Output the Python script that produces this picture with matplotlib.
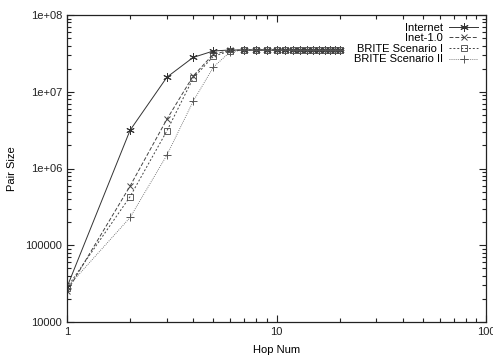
import matplotlib.pyplot as plt
from matplotlib.ticker import LogLocator, NullFormatter, FixedLocator, FixedFormatter

plt.rcParams['font.family'] = ['Liberation Sans', 'DejaVu Sans']

hops = list(range(1, 21))
internet = [2.85e4, 3.15e6, 1.55e7, 2.8e7, 3.4e7] + [3.5e7] * 15
inet = [2.5e4, 5.9e5, 4.4e6, 1.6e7, 3.1e7, 3.45e7] + [3.5e7] * 14
brite1 = [2.8e4, 4.3e5, 3.1e6, 1.5e7, 2.9e7, 3.4e7] + [3.5e7] * 14
brite2 = [2.8e4, 2.3e5, 1.5e6, 7.5e6, 2.1e7, 3.3e7] + [3.5e7] * 14

yticks = [1e4, 1e5, 1e6, 1e7, 1e8]
ylabels = ['10000', '100000', '1e+06', '1e+07', '1e+08']
xticks = [1, 10, 100]
xlabels = ['1', '10', '100']

fig = plt.figure(figsize=(4.93, 3.56), dpi=100)
ax = fig.add_axes([67 / 493, 1 - 322 / 356, 419 / 493, 307 / 356])

ax.plot(hops, internet, color='#333333', lw=0.7, ls='-', marker=(6, 2, 0),
        ms=6, mew=0.7, label='Internet')
ax.plot(hops, inet, color='#444444', lw=0.7, ls=(0, (4, 2)), marker='x',
        ms=5, mew=0.7, label='Inet-1.0')
ax.plot(hops, brite1, color='#444444', lw=0.7, ls=(0, (2, 2)), marker='s',
        ms=5, mew=0.6, mfc='none', label='BRITE Scenario I')
ax.plot(hops, brite2, color='#555555', lw=0.6, ls=(0, (1, 1.5)), marker='+',
        ms=6, mew=0.7, label='BRITE Scenario II')

ax.set_xscale('log')
ax.set_yscale('log')
ax.set_xlim(1, 100)
ax.set_ylim(1e4, 1e8)

ax.xaxis.set_major_locator(FixedLocator(xticks))
ax.xaxis.set_major_formatter(FixedFormatter(xlabels))
ax.yaxis.set_major_locator(FixedLocator(yticks))
ax.yaxis.set_major_formatter(FixedFormatter(ylabels))
ax.xaxis.set_minor_locator(LogLocator(base=10, subs=range(2, 10)))
ax.yaxis.set_minor_locator(LogLocator(base=10, subs=range(2, 10)))
ax.xaxis.set_minor_formatter(NullFormatter())
ax.yaxis.set_minor_formatter(NullFormatter())

ax.tick_params(which='both', direction='in', top=True, right=True,
               labelsize=8, width=0.8, colors='#222222')
ax.tick_params(which='major', length=5)
ax.tick_params(which='minor', length=3)
for s in ax.spines.values():
    s.set_linewidth(0.9)
    s.set_color('#222222')

ax.set_xlabel('Hop Num', fontsize=8, labelpad=6)
ax.set_ylabel('Pair Size', fontsize=8, labelpad=6)

ax.legend(loc='upper right', frameon=False, fontsize=8, markerfirst=False,
          handlelength=2.6, labelspacing=0.05, borderaxespad=0.3,
          handletextpad=0.6)

fig.savefig('out.png', dpi=100)
